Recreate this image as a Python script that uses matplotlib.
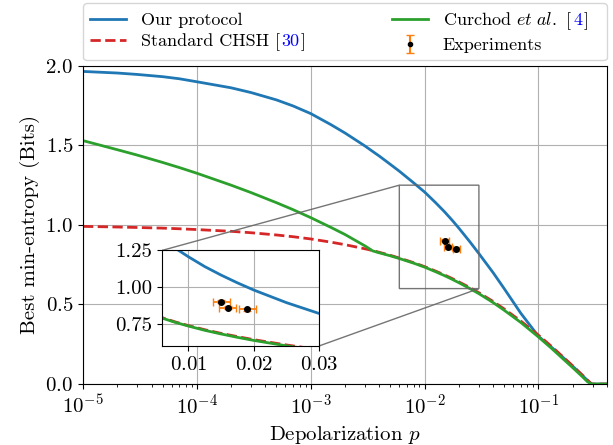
import numpy as np
import matplotlib
matplotlib.use("Agg")
import matplotlib.pyplot as plt
from matplotlib.offsetbox import HPacker, TextArea, DrawingArea

plt.rcParams['font.family'] = 'serif'
plt.rcParams['font.serif'] = ['cmr10']
plt.rcParams['mathtext.fontset'] = 'cm'
plt.rcParams['axes.formatter.use_mathtext'] = True
plt.rcParams['axes.unicode_minus'] = False

# depolarization values the curves were read at
p = [1e-5, 2e-5, 3e-5, 5e-5, 7e-5, 1e-4, 2e-4, 3e-4, 5e-4, 7e-4,
     1e-3, 1.5e-3, 2e-3, 3e-3, 3.5e-3, 4e-3, 5e-3, 6e-3, 8e-3, 1e-2,
     1.25e-2, 1.5e-2, 1.75e-2, 2e-2, 2.5e-2, 3e-2, 4e-2, 5e-2, 7e-2, 0.1,
     0.13, 0.16, 0.2, 0.24, 0.27, 0.293, 0.4]

ours = [1.965, 1.955, 1.946, 1.932, 1.919, 1.90, 1.862, 1.832, 1.786, 1.748,
        1.70, 1.631, 1.578, 1.496, 1.462, 1.433, 1.381, 1.338, 1.265, 1.207,
        1.140, 1.082, 1.029, 0.980, 0.894, 0.820, 0.700, 0.600, 0.445, 0.300,
        0.232, 0.175, 0.112, 0.058, 0.022, 0.0, 0.0]

chsh = [0.991, 0.987, 0.984, 0.980, 0.976, 0.971, 0.960, 0.951, 0.937, 0.926,
        0.912, 0.892, 0.876, 0.850, 0.839, 0.828, 0.809, 0.792, 0.763, 0.738,
        0.710, 0.685, 0.663, 0.642, 0.606, 0.574, 0.519, 0.472, 0.396, 0.307,
        0.237, 0.178, 0.114, 0.060, 0.024, 0.0, 0.0]

curchod = [1.53, 1.473, 1.439, 1.393, 1.361, 1.325, 1.250, 1.203, 1.140, 1.096,
           1.046, 0.985, 0.940, 0.868, 0.837, 0.825, 0.806, 0.789, 0.760, 0.735,
           0.706, 0.681, 0.658, 0.637, 0.600, 0.568, 0.512, 0.464, 0.387, 0.296,
           0.225, 0.166, 0.103, 0.050, 0.014, 0.0, 0.0]

# experimental points
exp_p = [0.0150, 0.0160, 0.0190]
exp_h = [0.900, 0.861, 0.849]
exp_perr = [0.0013, 0.0013, 0.0013]
exp_herr = [0.010, 0.010, 0.010]


def draw_curves(a):
    a.plot(p, ours, color='tab:blue', lw=2)
    a.plot(p, chsh, color='tab:red', lw=2, ls='--')
    a.plot(p, curchod, color='tab:green', lw=2)
    a.errorbar(exp_p, exp_h, xerr=exp_perr, yerr=exp_herr, fmt='o', color='k',
               ms=4, ecolor='tab:orange', elinewidth=1.3, capsize=3)


fig = plt.figure(figsize=(6.13, 4.45), dpi=100)
ax = fig.add_axes([0.1354, 0.137, 0.8548, 0.715])

h1, = ax.plot([], [], color='tab:blue', lw=2, label='Our protocol')
h2, = ax.plot([], [], color='tab:red', lw=2, ls='--', label='Standard CHSH [30]')
h3, = ax.plot([], [], color='tab:green', lw=2, label=r'Curchod $\mathit{et\ al.}$ [4]')
h4 = ax.errorbar([np.nan], [np.nan], yerr=[0.1], fmt='o', color='k', ms=3,
                 ecolor='tab:orange', elinewidth=1.5, capsize=3, label='Experiments')
draw_curves(ax)

ax.set_xscale('log')
ax.set_xlim(1e-5, 0.4)
ax.set_ylim(0, 2)
ax.set_yticks([0, 0.5, 1.0, 1.5, 2.0])
ax.grid(True)
ax.tick_params(labelsize=15)
ax.set_xlabel('Depolarization $p$', fontsize=15)
ax.set_ylabel('Best min-entropy (Bits)', fontsize=15)

axins = ax.inset_axes([0.151, 0.12, 0.30, 0.30])
draw_curves(axins)
axins.set_xlim(0.006, 0.03)
axins.set_ylim(0.6, 1.25)
axins.set_xticks([0.01, 0.02, 0.03])
axins.set_yticks([0.75, 1.00, 1.25])
axins.set_yticklabels(['0.75', '1.00', '1.25'])
axins.grid(True)
axins.tick_params(labelsize=15)
ax.indicate_inset_zoom(axins, edgecolor='0.4', alpha=0.9)

leg = ax.legend(handles=[h1, h2, h3, h4], ncol=2, loc='lower left',
                bbox_to_anchor=(0, 1.018, 1.0, 0.1), mode='expand',
                borderaxespad=0, fontsize=13, borderpad=0.4, labelspacing=0.3)

# rebuild the labels with citations so the numbers come out blue
for col in leg._legend_handle_box.get_children():
    for row in col.get_children():
        text_box = row.get_children()[1]
        s = text_box.get_text()
        if not s.endswith(']'):
            continue
        pre, ref = s[:-1].rsplit('[', 1)
        parts = [TextArea(pre + '[', textprops=dict(fontsize=13)),
                 TextArea(ref, textprops=dict(fontsize=13, color='blue')),
                 TextArea(']', textprops=dict(fontsize=13))]
        if 'Curchod' in s:
            parts.append(DrawingArea(7, 1))
        box = HPacker(children=parts, pad=0, sep=1, align='baseline')
        box.set_figure(fig)
        row._children[1] = box

fig.savefig('out.png', dpi=100)
